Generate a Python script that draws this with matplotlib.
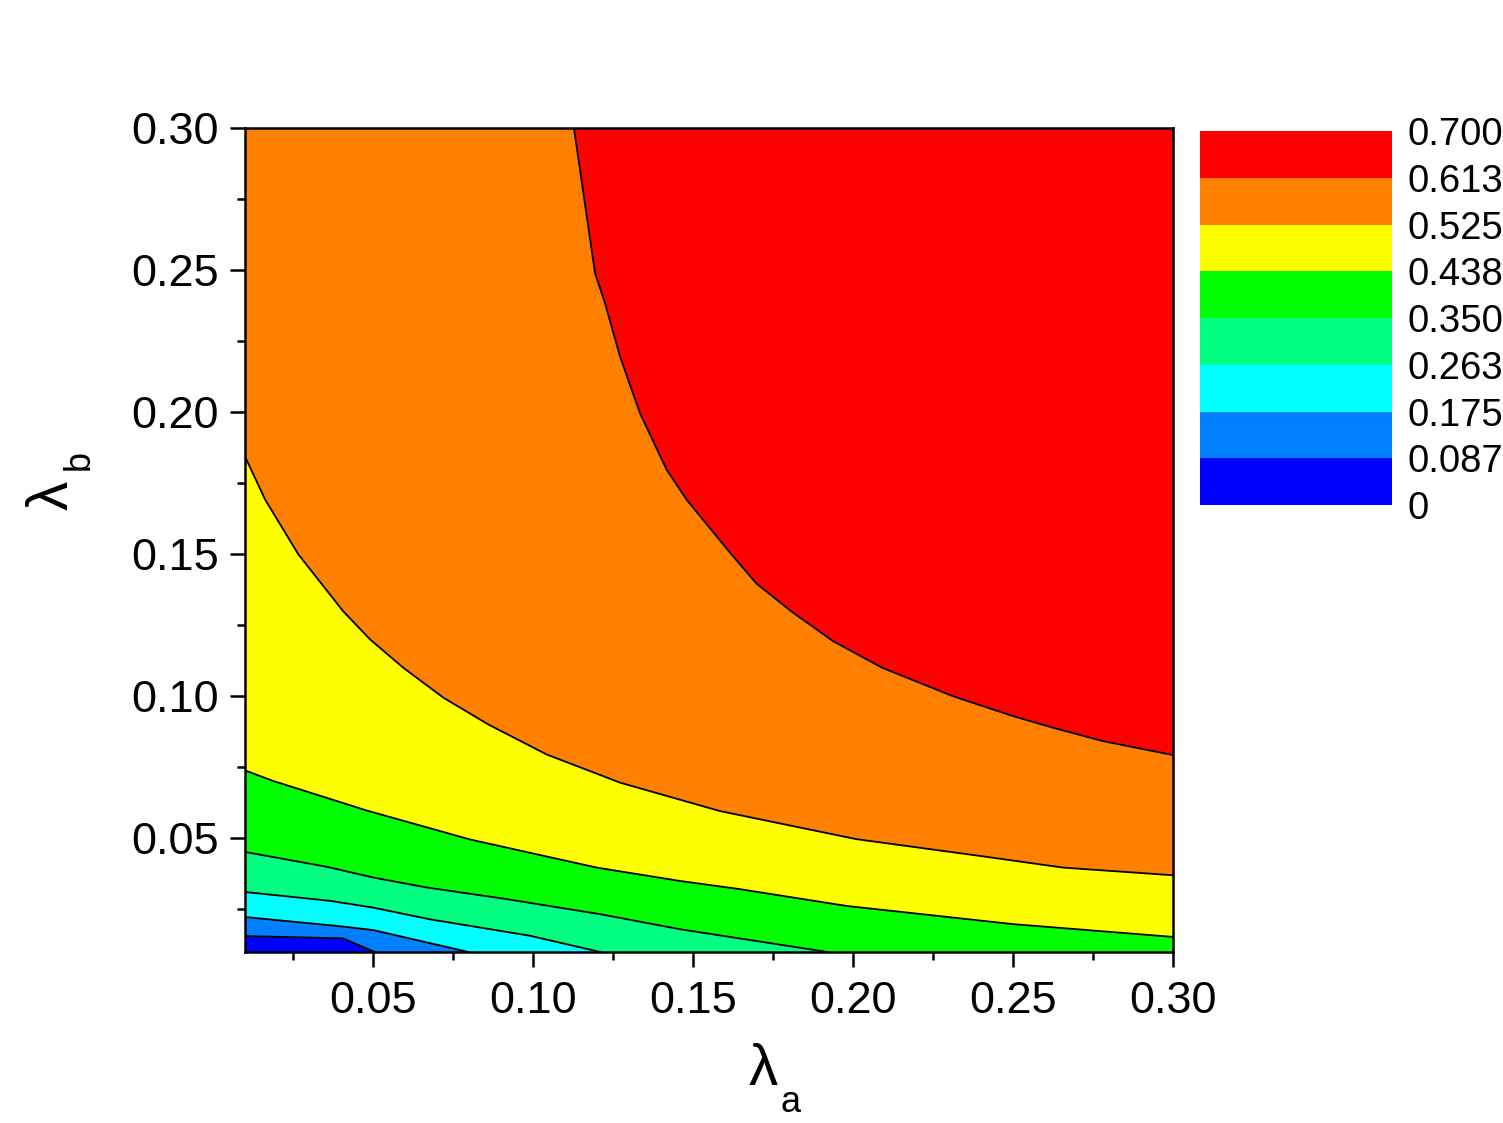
import numpy as np
import matplotlib
matplotlib.use("Agg")
import matplotlib.pyplot as plt
from matplotlib.colors import ListedColormap, BoundaryNorm
from matplotlib.cm import ScalarMappable

plt.rcParams["font.family"] = ["Liberation Sans", "DejaVu Sans"]

# contour levels and band colours (lowest -> highest)
levels = [0, 0.0875, 0.175, 0.2625, 0.35, 0.4375, 0.525, 0.6125, 0.7]
level_labels = ["0", "0.087", "0.175", "0.263", "0.350", "0.438", "0.525", "0.613", "0.700"]
band_colors = ["#0000FF", "#0080FF", "#00FFFF", "#00FF80",
               "#00FF00", "#FFFF00", "#FF8000", "#FF0000"]

# contour lines (lambda_a, lambda_b)
x_0875 = [0.010, 0.0406, 0.0506]
y_0875 = [0.0156, 0.0148, 0.010]
x_175 = [0.010, 0.0402, 0.0501, 0.0798]
y_175 = [0.0223, 0.0190, 0.0177, 0.010]
x_2625 = [0.010, 0.0366, 0.0501, 0.0678, 0.0991, 0.121]
y_2625 = [0.0311, 0.0280, 0.0256, 0.0215, 0.0157, 0.010]
x_350 = [0.010, 0.0355, 0.0501, 0.0668, 0.0918, 0.121, 0.146, 0.192]
y_350 = [0.0452, 0.0400, 0.0362, 0.0327, 0.0286, 0.0233, 0.0180, 0.010]
x_4375 = [0.010, 0.0188, 0.048, 0.0803, 0.1199, 0.1459, 0.1647, 0.198, 0.250, 0.300]
y_4375 = [0.0739, 0.0702, 0.0598, 0.0496, 0.0397, 0.0350, 0.0321, 0.0262, 0.0198, 0.0153]
x_525 = [0.010, 0.0163, 0.0267, 0.0407, 0.0491, 0.0595, 0.072, 0.086, 0.1043,
         0.1272, 0.1584, 0.1834, 0.2011, 0.2397, 0.2656, 0.300]
y_525 = [0.1844, 0.1692, 0.1499, 0.1299, 0.1200, 0.1100, 0.0995, 0.0901, 0.0795,
         0.0696, 0.0596, 0.0538, 0.0497, 0.0438, 0.0397, 0.0370]
x_6125 = [0.1128, 0.1194, 0.1225, 0.1272, 0.1334, 0.1418, 0.148, 0.1616, 0.1699,
          0.1813, 0.1938, 0.2092, 0.2313, 0.2501, 0.2626, 0.2782, 0.300]
y_6125 = [0.300, 0.2489, 0.2384, 0.2196, 0.1997, 0.1797, 0.1692, 0.1505, 0.1396,
          0.1294, 0.1194, 0.1100, 0.1000, 0.0930, 0.0889, 0.0842, 0.0793]

curves = [(x_0875, y_0875), (x_175, y_175), (x_2625, y_2625), (x_350, y_350),
          (x_4375, y_4375), (x_525, y_525), (x_6125, y_6125)]

xmin, xmax = 0.01, 0.30
ymin, ymax = 0.01, 0.30

fig = plt.figure(figsize=(15.03, 11.23), dpi=100)
ax = fig.add_axes([0.163, 0.1523, 0.6174, 0.7337])
ax.set_facecolor(band_colors[0])

# each level: fill everything above/right of the line with the next colour
for (cx, cy), col in zip(curves, band_colors[1:]):
    px = list(cx) + [xmax, xmax, xmin]
    py = list(cy) + [ymin, ymax, ymax]
    ax.fill(px, py, color=col, lw=0, zorder=1)
for cx, cy in curves:
    ax.plot(cx, cy, color="black", lw=1.3, zorder=2)

ax.set_xlim(xmin, xmax)
ax.set_ylim(ymin, ymax)
ticks = [0.05, 0.10, 0.15, 0.20, 0.25, 0.30]
minor = [0.025, 0.075, 0.125, 0.175, 0.225, 0.275]
ax.set_xticks(ticks)
ax.set_yticks(ticks)
ax.set_xticks(minor, minor=True)
ax.set_yticks(minor, minor=True)
ax.set_xticklabels(["%.2f" % t for t in ticks])
ax.set_yticklabels(["%.2f" % t for t in ticks])
ax.tick_params(which="major", direction="out", length=11, width=1.8,
               labelsize=32.5, pad=8)
ax.tick_params(which="minor", direction="out", length=6, width=1.8)
ax.tick_params(axis="x", which="major", pad=10)
for s in ax.spines.values():
    s.set_linewidth(1.8)
    s.set_zorder(5)

# axis titles: lambda with a dropped subscript
ax.text(0.559, -0.1614, "\u03bb", transform=ax.transAxes, fontsize=42,
        ha="center", va="baseline")
ax.text(0.5776, -0.194, "a", transform=ax.transAxes, fontsize=26,
        ha="left", va="baseline")
ax.text(-0.1907, 0.5546, "\u03bb", transform=ax.transAxes, fontsize=42,
        rotation=90, rotation_mode="anchor", ha="center", va="baseline")
ax.text(-0.168, 0.585, "b", transform=ax.transAxes, fontsize=26,
        rotation=90, rotation_mode="anchor", ha="left", va="baseline")

# colour scale
cax = fig.add_axes([0.7984, 0.5503, 0.1277, 0.333])
sm = ScalarMappable(norm=BoundaryNorm(levels, len(band_colors)),
                    cmap=ListedColormap(band_colors))
cb = fig.colorbar(sm, cax=cax, ticks=levels)
cb.outline.set_visible(False)
cb.set_ticklabels(level_labels)
cax.tick_params(length=0, labelsize=27.5, pad=11)

fig.savefig("out.png", dpi=100)
